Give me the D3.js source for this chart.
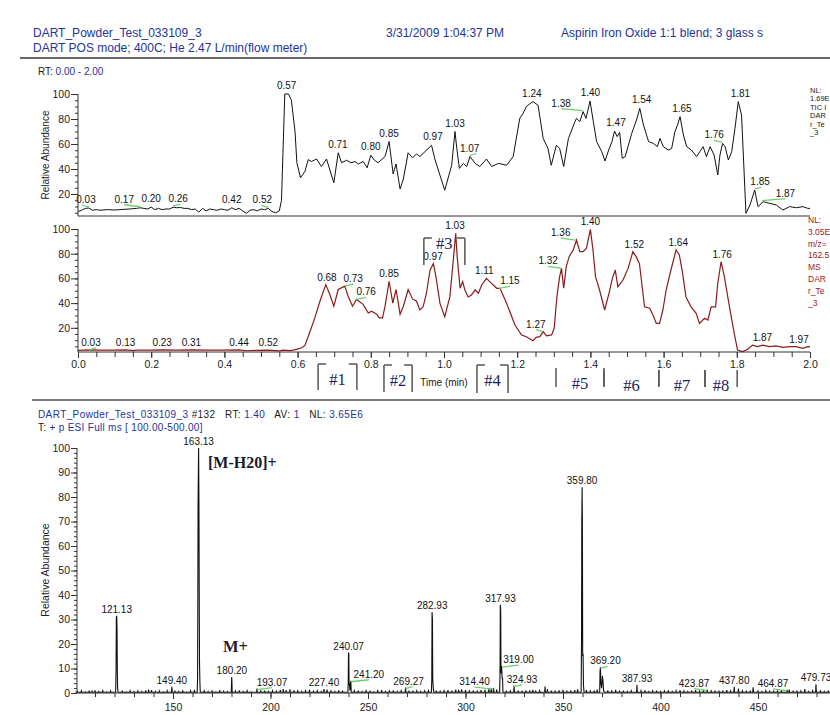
<!DOCTYPE html>
<html>
<head>
<meta charset="utf-8">
<script src="https://cdn.jsdelivr.net/npm/d3@7"></script>
<style>
body { margin: 0; background: #fff; }
svg { display: block; font-family: "Liberation Sans", Arial, sans-serif; }
</style>
</head>
<body>
<script>
// ---- data ----
// TIC trace, [time (min), relative abundance]
var ticTrace = [
  [0.00,6],[0.01,7],[0.02,8.5],[0.03,8.8],[0.04,7],[0.05,7.5],[0.06,7],[0.08,7.5],[0.10,7.2],[0.12,7.6],
  [0.14,8],[0.16,8.5],[0.17,9],[0.18,8.5],[0.19,8],[0.20,9.5],[0.21,7.5],[0.22,8.5],[0.23,7.5],[0.24,8],
  [0.25,8],[0.26,9.5],[0.27,9],[0.28,9.2],[0.29,8.5],[0.30,8.5],[0.31,7.5],[0.32,8],[0.33,5.5],[0.34,8.5],
  [0.35,6.5],[0.36,8],[0.37,7.5],[0.38,7],[0.39,8],[0.40,7.5],[0.41,7],[0.42,9],[0.43,7.5],[0.44,8.5],
  [0.45,6.5],[0.46,4.5],[0.47,7],[0.48,7.5],[0.49,6.5],[0.50,8],[0.51,7.5],[0.52,8.5],[0.53,6],[0.54,5],
  [0.55,6.5],[0.556,15],[0.565,100],[0.575,100],[0.583,95],[0.593,70],[0.598,45],[0.608,33],[0.62,38],
  [0.629,47.5],[0.638,46],[0.652,48],[0.665,42],[0.679,48],[0.699,29],[0.711,53],[0.72,45],[0.734,47],
  [0.746,45],[0.757,46],[0.766,44],[0.779,46],[0.79,41],[0.80,51],[0.81,47],[0.82,45],[0.839,50],[0.85,62],
  [0.861,36],[0.869,44],[0.88,24],[0.889,32],[0.902,53],[0.914,49],[0.925,52],[0.934,49.9],[0.966,59],
  [0.975,48],[1.002,23],[1.021,43],[1.03,70],[1.035,56.5],[1.042,40.5],[1.053,44.5],[1.062,42],[1.071,50],
  [1.085,44.5],[1.098,42],[1.116,48],[1.13,42],[1.149,44.5],[1.171,43],[1.189,50],[1.207,80.5],[1.216,84.5],
  [1.225,90],[1.243,94],[1.257,91],[1.271,64.5],[1.284,56.5],[1.293,43],[1.307,59],[1.316,56.5],[1.327,42],
  [1.34,64.5],[1.358,78],[1.362,80.5],[1.371,77.9],[1.38,85.9],[1.388,80.5],[1.399,94.4],[1.408,77.9],
  [1.417,61.9],[1.431,53.9],[1.44,46.4],[1.45,55.2],[1.459,61.9],[1.466,70.4],[1.473,65.9],[1.48,69.3],
  [1.487,48.5],[1.495,49.9],[1.504,59.2],[1.513,68.5],[1.526,79.2],[1.535,88.5],[1.545,75.2],[1.559,61.9],
  [1.572,60.5],[1.583,57.9],[1.59,64.5],[1.599,57.9],[1.613,55.2],[1.622,56.5],[1.631,69.9],[1.638,75.2],
  [1.645,81.9],[1.654,67.2],[1.663,57.9],[1.676,55.2],[1.69,49.9],[1.699,53.9],[1.708,57.9],[1.717,49.9],
  [1.727,57.9],[1.738,51.2],[1.748,35.2],[1.754,51.2],[1.761,60.5],[1.768,57.9],[1.777,47.2],[1.786,53.9],
  [1.795,72.5],[1.804,93.9],[1.813,83.2],[1.825,4.5],[1.836,11.2],[1.849,23.2],[1.858,9.9],[1.872,13.9],
  [1.89,12.5],[1.908,11.2],[1.926,7.2],[1.944,9.9],[1.963,9],[1.981,9.9],[1.994,8.5],[2.0,8.5]
];
// m/z 162.50-163.50 trace
var xicTrace = [
  [0.00,1.8],[0.03,2.2],[0.06,1.9],[0.10,1.9],[0.13,2.1],[0.15,1.5],[0.16,1.9],[0.20,1.9],[0.23,2.1],
  [0.27,1.9],[0.31,2.1],[0.35,1.9],[0.40,1.9],[0.44,2.1],[0.46,1.4],[0.49,1.8],[0.52,2.0],[0.55,1.3],
  [0.56,1.9],[0.58,1.5],[0.597,2.5],[0.611,3.8],[0.62,5.7],[0.634,17],[0.647,28],[0.661,41.5],[0.677,55],
  [0.688,47],[0.699,37.5],[0.711,51],[0.729,53.7],[0.738,45.6],[0.75,37.5],[0.761,43],[0.779,39],[0.793,32],
  [0.802,33.5],[0.816,31],[0.823,28],[0.832,28],[0.839,37.5],[0.85,57.7],[0.86,40],[0.869,51],[0.88,31],
  [0.889,37.5],[0.902,51],[0.914,43.4],[0.925,41.5],[0.934,34.4],[0.943,37],[0.952,48],[0.962,66.8],
  [0.971,72],[0.978,61.4],[0.989,39.8],[1.002,29],[1.016,45],[1.025,73.5],[1.032,96.5],[1.036,77.6],
  [1.044,52],[1.051,57.4],[1.057,50.6],[1.066,45],[1.075,46.6],[1.085,50.6],[1.094,48],[1.103,54.7],
  [1.116,60],[1.13,56],[1.144,52],[1.153,52],[1.171,39.8],[1.194,22.3],[1.212,14.2],[1.225,12.8],
  [1.243,9.6],[1.252,12.3],[1.262,12.8],[1.271,16.9],[1.28,13.4],[1.294,14.2],[1.301,19.6],[1.309,46.6],
  [1.316,61.4],[1.321,68.1],[1.327,52],[1.334,69.5],[1.342,77.6],[1.353,83],[1.362,91],[1.371,81.6],
  [1.38,81.6],[1.389,84.3],[1.4,99.7],[1.407,83],[1.414,61.4],[1.425,50.6],[1.439,34.4],[1.452,49.3],
  [1.46,60],[1.468,66.8],[1.475,53.3],[1.489,58.7],[1.503,68.1],[1.516,81.6],[1.525,77.6],[1.534,72],
  [1.548,37],[1.562,35.8],[1.571,30.4],[1.58,23.6],[1.589,23.6],[1.598,34.4],[1.607,50.6],[1.62,66.8],
  [1.634,83],[1.643,79],[1.652,64],[1.661,45],[1.675,37],[1.689,31.7],[1.698,23.6],[1.712,27.7],
  [1.721,26.3],[1.73,37],[1.742,37],[1.748,56],[1.757,73.5],[1.766,61.4],[1.78,37],[1.793,15.5],
  [1.802,2],[1.816,0.7],[1.83,2.6],[1.843,6],[1.857,4.7],[1.871,6],[1.889,4.7],[1.907,5.3],[1.926,4.2],
  [1.944,4.7],[1.962,4.7],[1.98,3.4],[1.994,4.7],[2.0,4.5]
];
var ticLabels = [0.03,0.17,0.20,0.26,0.42,0.52,0.57,0.71,0.80,0.85,0.97,1.03,1.07,1.24,1.38,1.40,1.47,1.54,1.65,1.76,1.81,1.85,1.87];
var xicLabels = [0.03,0.13,0.23,0.31,0.44,0.52,0.68,0.73,0.76,0.85,0.97,1.03,1.11,1.15,1.27,1.32,1.36,1.40,1.52,1.64,1.76,1.87,1.97];
var timeTicks = [0.0,0.2,0.4,0.6,0.8,1.0,1.2,1.4,1.6,1.8,2.0];
var abundTicks = [20,40,60,80,100];
// trace notes at the right edge (cut by the page edge in the original)
var ticNote = ["NL:", "1.69E", "TIC I", "DAR", "r_Te", "_3"];
var xicNote = ["NL:", "3.05E", "m/z=", "162.5", "MS", "DAR", "r_Te", "_3"];
// scan segments marked under the chromatogram
var segNames = ["#1","#2","#3","#4","#5","#6","#7","#8"];
var segFrom  = [0.656,0.836,0.945,1.090,1.306,1.437,1.587,1.713];
var segTo    = [0.762,0.913,1.057,1.175,1.437,1.587,1.713,1.801];

// mass spectrum, profile points [m/z, relative abundance]
var msProfile = [
  [120.6,0.3],[120.8,9.5],[120.95,31],[121.13,31.5],[121.3,26],[121.45,8],[121.6,2],[121.8,0.3],
  [162.4,0.3],[162.6,6],[162.75,40],[162.85,77],[163.13,100],[163.3,77],[163.45,40],[163.6,12],[163.8,4],[164.0,0.3],
  [179.9,0.3],[180.1,6.5],[180.2,5],[180.35,0.3],
  [239.7,0.3],[239.85,4],[240.0,16.5],[240.15,16],[240.3,4],[240.5,3],[240.75,1],[241.0,4],[241.2,5],[241.4,0.3],
  [282.5,0.3],[282.7,5],[282.85,33],[283.05,30],[283.2,6],[283.5,2],[283.8,0.3],
  [317.5,0.3],[317.7,7],[317.85,36],[318.05,34],[318.2,8],[318.5,11],[318.8,6],[319.0,6],[319.2,0.3],
  [359.3,0.3],[359.5,21],[359.65,70],[359.8,84],[359.95,70],[360.1,15],[360.3,16],[360.5,3],[360.8,0.3],
  [368.8,0.3],[369.0,9],[369.2,10.5],[369.4,4],[369.8,2],[370.2,7],[370.5,5],[370.8,1],[371.2,0.3]
];
// small labelled peaks
var msMinor = [[149.40,2.5],[193.07,1.8],[227.40,1.6],[269.27,2.2],[314.40,2.0],[324.93,3.0],
  [387.93,3.4],[423.87,1.4],[437.80,2.5],[464.87,1.3],[479.73,3.6]];
// baseline noise spikes
var msNoise = [
  [101,0.6],[103,0.9],[105,0.5],[107,1.0],[108.5,0.7],[110,1.1],[112,0.6],[114,0.9],[116,0.5],[118,0.8],
  [124,0.7],[126,0.5],[128,0.9],[130,0.6],[132,0.8],[134,0.6],[136,1.1],[137.5,1.4],[139,1.2],[141,0.6],
  [143,0.8],[145,0.5],[147,0.9],[151,1.0],[153,0.6],[155,0.8],[157,0.5],[159,0.9],[161,1.3],[166,0.9],
  [168,0.6],[170,0.8],[172,0.5],[174,1.2],[176,0.7],[178,0.6],[182,0.8],[184,1.1],[186,0.6],[188,0.9],
  [190,0.5],[195,0.8],[197,1.0],[199,0.6],[201,0.9],[203,0.7],[205,1.3],[206.5,1.6],[208,1.2],[210,1.5],
  [212,1.1],[214,0.8],[216,0.6],[218,0.9],[220,1.3],[222,0.7],[224,0.9],[226,0.6],[229,1.4],[231,0.8],
  [233,0.6],[235,1.1],[237,0.7],[243,0.9],[245,1.0],[247,0.6],[249,0.9],[251,0.7],[253,0.5],[255,0.9],
  [257,1.2],[259,0.6],[261,0.8],[263,1.1],[265,0.6],[267,0.9],[271,1.0],[273,0.7],[275,0.9],[277,0.6],
  [279,0.8],[281,0.9],[285,1.0],[287,0.7],[289,0.9],[291,1.2],[293,1.0],[295,1.4],[296.5,1.3],[298,1.5],
  [300,1.2],[302,0.8],[304,1.0],[306,0.7],[308,1.2],[310,1.3],[312,1.7],[313.2,1.9],[316,1.4],[321,1.0],
  [323,0.8],[327,1.0],[329,0.7],[331,1.1],[333,0.8],[334.5,1.3],[336,0.7],[338,0.9],[340.8,2.6],[342,1.6],
  [344,1.0],[346,0.7],[348,1.1],[350,1.3],[352,0.7],[354,1.0],[356,1.2],[357.5,1.5],[362,1.2],[364,0.8],
  [366,1.0],[367.5,1.4],[373,1.1],[375,0.8],[377,1.3],[379,0.7],[381,1.0],[383,0.6],[385,0.9],[390,0.9],
  [392,1.1],[394,0.6],[396,0.8],[398,1.0],[400,0.6],[402,0.8],[404,1.1],[406,0.6],[408,0.9],[410,1.2],
  [412,0.8],[414,0.6],[416,1.0],[418,1.2],[420,0.7],[422,0.9],[426,0.8],[428,1.0],[430,0.7],[432,1.0],
  [434,1.2],[436,0.8],[440,1.8],[442,0.9],[444,0.7],[446,1.0],[447.5,2.3],[450,0.8],[452,0.6],[454,0.9],
  [456,0.7],[458,1.0],[460,0.8],[462,1.2],[466,1.4],[468,0.7],[470,1.0],[472,0.8],[474,1.6],[476,0.6],
  [478,0.9],[482,0.8],[484,0.6],[486,1.0],[488,0.7],[490,0.9],[492,1.3],[494,0.6],[496,0.8],[498,0.7]
];
var msLabels = [121.13,149.40,163.13,180.20,193.07,227.40,240.07,241.20,269.27,282.93,314.40,317.93,
  319.00,324.93,359.80,369.20,387.93,423.87,437.80,464.87,479.73];
var mzTicks = [150,200,250,300,350,400,450];

// ---- layout ----
var W = 830, H = 715;
var blue = "#23339c", ink = "#1a1a1a", green = "#6ccf6c", darkRed = "#8b1c1c";

// label nudges (px) for labels pulled aside, with a green leader back to the peak
var ticNudge = {"0.03":-3,"0.17":-16,"0.26":5,"0.52":-6,"1.07":0,"1.38":-22,"1.76":-8,"1.85":5,"1.87":23};
var xicNudge = {"0.03":2,"0.73":8,"0.76":10,"1.15":11,"1.27":-7,"1.32":-13,"1.36":-15};
var msNudge  = {"193.07":15,"241.20":18,"269.27":3,"314.40":-19,"319.00":16,"324.93":8,"369.20":5,"423.87":-13,"464.87":-14};

var svg = d3.select("body").append("svg").attr("width", W).attr("height", H);

var xT = d3.scaleLinear().domain([0, 2]).range([78, 810]);
var yTop = d3.scaleLinear().domain([0, 100]).range([219, 94]);
var yBot = d3.scaleLinear().domain([0, 100]).range([352.5, 229]);
var xMs = d3.scaleLinear().domain([100, 500]).range([75.5, 855.5]);
var yMs = d3.scaleLinear().domain([0, 100]).range([693, 448]);

function text(x, y, s, size, fill) {
  return svg.append("text").attr("x", x).attr("y", y).attr("font-size", size).attr("fill", fill || ink).text(s);
}
function hline(x1, x2, y, col, w) {
  svg.append("line").attr("x1", x1).attr("x2", x2).attr("y1", y).attr("y2", y)
    .attr("stroke", col || "#333").attr("stroke-width", w || 1);
}
function vline(x, y1, y2, col, w) {
  svg.append("line").attr("x1", x).attr("x2", x).attr("y1", y1).attr("y2", y2)
    .attr("stroke", col || "#333").attr("stroke-width", w || 1);
}
function clean(g, size) {
  g.select(".domain").remove();
  g.selectAll("line").attr("stroke", "#333");
  g.selectAll("text").attr("font-size", size || 11).attr("fill", "#222")
    .attr("font-family", '"Liberation Sans", Arial, sans-serif');
}

// ---- header ----
text(33, 37, "DART_Powder_Test_033109_3", 12, blue);
text(386, 37, "3/31/2009 1:04:37 PM", 12, blue);
text(561, 37, "Aspirin Iron Oxide 1:1 blend; 3 glass s", 12, blue);
text(33, 52, "DART POS mode; 400C; He 2.47 L/min(flow meter)", 12, blue);
hline(20, 830, 58, "#333", 1.3);
var rt = text(38, 75, "", 10, ink).style("white-space", "pre");
rt.append("tspan").text("RT: ");
rt.append("tspan").attr("fill", blue).text("0.00 - 2.00");

// ---- peak labels helper ----
function valueNear(data, t, win) {
  var near = data.filter(function(d) { return Math.abs(d[0] - t) <= win; });
  if (near.length) return d3.max(near, function(d) { return d[1]; });
  var i = d3.bisector(function(d) { return d[0]; }).left(data, t);
  var a = data[Math.max(0, i - 1)], b = data[Math.min(data.length - 1, i)];
  if (a === b) return a[1];
  return a[1] + (b[1] - a[1]) * (t - a[0]) / (b[0] - a[0]);
}
function peakLabels(g, data, labels, x, y, win, nudge, lift) {
  labels.forEach(function(t) {
    var key = t.toFixed(2);
    var v = valueNear(data, t, win);
    var xp = x(t), yb = y(v) - lift;
    var dx = nudge[key];
    if (dx !== undefined) {
      var end = dx >= 0 ? Math.max(dx, 7) : Math.min(dx, -7);
      g.append("line").attr("x1", xp).attr("y1", yb + 4).attr("x2", xp + end).attr("y2", yb + 2)
        .attr("stroke", green).attr("stroke-width", 1.3);
    }
    g.append("text").attr("x", xp + (dx || 0)).attr("y", yb).attr("text-anchor", "middle")
      .attr("font-size", 10).attr("fill", "#111").text(key);
  });
}

// ---- TIC panel ----
var gTop = svg.append("g");
gTop.append("g").attr("transform", "translate(78,0)")
  .call(d3.axisLeft(yTop).tickValues(d3.range(5, 101, 5)).tickSize(3).tickFormat(""))
  .call(clean);
gTop.append("g").attr("transform", "translate(78,0)")
  .call(d3.axisLeft(yTop).tickValues(abundTicks).tickSize(7).tickPadding(1))
  .call(clean, 10.5);
vline(78, 94, 216);
hline(78, 810, 216);
gTop.append("path").datum(ticTrace)
  .attr("fill", "none").attr("stroke", "#111").attr("stroke-width", 1)
  .attr("d", d3.line().x(function(d) { return xT(d[0]); }).y(function(d) { return yTop(d[1]); }));
peakLabels(gTop, ticTrace, ticLabels, xT, yTop, 0.008, ticNudge, 5);
svg.append("text").attr("transform", "translate(49,155) rotate(-90)").attr("text-anchor", "middle")
  .attr("font-size", 10).attr("fill", "#222").text("Relative Abundance");
ticNote.forEach(function(s, i) {
  text(810, 93 + i * 8.4, s, 7.5, "#222");
});

// ---- m/z 162.5 panel ----
var gBot = svg.append("g");
gBot.append("g").attr("transform", "translate(78,0)")
  .call(d3.axisLeft(yBot).tickValues(d3.range(5, 101, 5)).tickSize(3).tickFormat(""))
  .call(clean);
gBot.append("g").attr("transform", "translate(78,0)")
  .call(d3.axisLeft(yBot).tickValues(abundTicks).tickSize(7).tickPadding(1))
  .call(clean, 10.5);
gBot.append("g").attr("transform", "translate(0,352)")
  .call(d3.axisBottom(xT).tickValues(d3.range(0, 2.001, 0.05)).tickSize(5).tickFormat(""))
  .call(clean);
gBot.append("g").attr("transform", "translate(0,352)")
  .call(d3.axisBottom(xT).tickValues(timeTicks).tickSize(6).tickPadding(3).tickFormat(d3.format(".1f")))
  .call(clean, 10.5);
vline(78, 229, 352);
hline(78, 810, 352);
gBot.append("path").datum(xicTrace)
  .attr("fill", "none").attr("stroke", darkRed).attr("stroke-width", 1.2)
  .attr("d", d3.line().x(function(d) { return xT(d[0]); }).y(function(d) { return yBot(d[1]); }));
peakLabels(gBot, xicTrace, xicLabels, xT, yBot, 0.008, xicNudge, 4);
xicNote.forEach(function(s, i) {
  text(808, 223 + i * 11.8, s, 8.5, "#a01818");
});
svg.append("text").attr("x", xT(1.0)).attr("y", 386).attr("text-anchor", "middle")
  .attr("font-size", 10).attr("fill", "#222").text("Time (min)");

// segment markers
var segTop = [364, 365, 238, 365, 368, 370, 370, 370];
var segBot = [390, 392, 265, 393, 387, 386, 387, 387];
segNames.forEach(function(name, i) {
  var xl = xT(segFrom[i]), xr = xT(segTo[i]), y0 = segTop[i], y1 = segBot[i];
  var col = "#555";
  vline(xl, y0, y1, col, 1.5);
  vline(xr, y0, y1, col, 1.5);
  if (i < 4) {
    hline(xl, xl + 8, y0, col, 1.5);
    hline(xr - 8, xr, y0, col, 1.5);
  }
  svg.append("text").attr("x", (xl + xr) / 2).attr("y", i === 2 ? 249 : y0 + 21)
    .attr("text-anchor", "middle").attr("font-family", '"Liberation Serif", "Times New Roman", serif')
    .attr("font-size", 16.5).attr("fill", "#1c1c5a").text(name);
});

hline(32, 830, 400, "#555", 1.5);

// ---- mass spectrum ----
var msHead = text(38, 418, "", 10, ink).style("white-space", "pre").attr("letter-spacing", 0.4);
msHead.append("tspan").attr("fill", blue).text("DART_Powder_Test_033109_3");
msHead.append("tspan").text(" #132   RT: ");
msHead.append("tspan").attr("fill", blue).text("1.40");
msHead.append("tspan").text("   AV: ");
msHead.append("tspan").attr("fill", blue).text("1");
msHead.append("tspan").text("   NL: ");
msHead.append("tspan").attr("fill", blue).text("3.65E6");
var msHead2 = text(38, 431, "", 10, ink).style("white-space", "pre").attr("letter-spacing", 0.3);
msHead2.append("tspan").text("T: ");
msHead2.append("tspan").attr("fill", blue).text("+ p ESI Full ms [ 100.00-500.00]");

var gMs = svg.append("g");
gMs.append("g").attr("transform", "translate(77,0)")
  .call(d3.axisLeft(yMs).tickValues(d3.range(0, 101, 2)).tickSize(3).tickFormat(""))
  .call(clean);
gMs.append("g").attr("transform", "translate(77,0)")
  .call(d3.axisLeft(yMs).tickValues(d3.range(0, 101, 10)).tickSize(6).tickPadding(1))
  .call(clean, 10.5);
gMs.append("g").attr("transform", "translate(0,693)")
  .call(d3.axisBottom(xMs).tickValues(d3.range(110, 500, 10)).tickSize(4).tickFormat(""))
  .call(clean);
gMs.append("g").attr("transform", "translate(0,693)")
  .call(d3.axisBottom(xMs).tickValues(mzTicks).tickSize(6).tickPadding(5))
  .call(clean, 10.5);
vline(77, 448, 693);
hline(77, 830, 693);

// profile: typed peak shapes plus narrow spikes for the minor peaks and noise
var spikes = [];
msMinor.concat(msNoise).forEach(function(d) {
  spikes.push([d[0] - 0.2, 0.3], [d[0], d[1]], [d[0] + 0.2, 0.3]);
});
var msLine = [[100, 0.3]].concat(msProfile, spikes, [[500, 0.3]])
  .sort(function(a, b) { return a[0] - b[0]; });
gMs.append("path").datum(msLine)
  .attr("fill", "none").attr("stroke", "#111").attr("stroke-width", 1.1)
  .attr("d", d3.line().x(function(d) { return xMs(d[0]); }).y(function(d) { return yMs(d[1]); }));
peakLabels(gMs, msLine, msLabels, xMs, yMs, 0.5, msNudge, 3);
svg.append("text").attr("transform", "translate(49,570) rotate(-90)").attr("text-anchor", "middle")
  .attr("font-size", 10.5).attr("fill", "#222").text("Relative Abundance");

svg.append("text").attr("x", 208).attr("y", 468).attr("font-family", '"Liberation Serif", "Times New Roman", serif')
  .attr("font-weight", "bold").attr("font-size", 16).attr("fill", "#1a1a2a").text("[M-H20]+");
svg.append("text").attr("x", 223).attr("y", 652).attr("font-family", '"Liberation Serif", "Times New Roman", serif')
  .attr("font-weight", "bold").attr("font-size", 16.5).attr("fill", "#2a1a30").text("M+");
</script>
</body>
</html>
